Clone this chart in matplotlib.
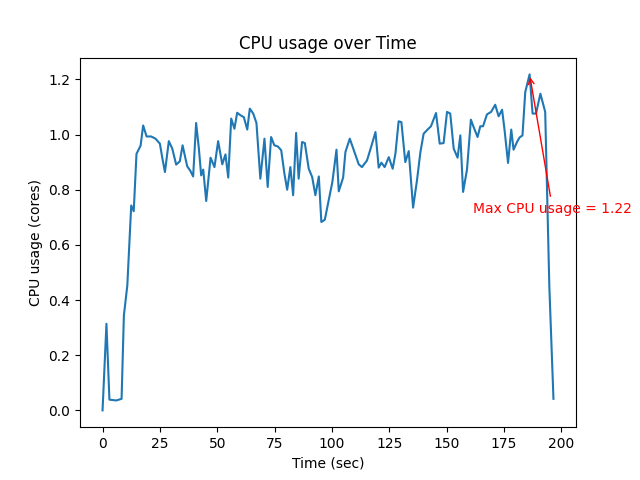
import matplotlib
matplotlib.use("Agg")
import matplotlib.pyplot as plt
import numpy as np

# sample times (sec) and cpu usage (cores)
time_sec = [0, 1.7, 3.0, 6.0, 8.3, 9.3, 10.8, 12.5, 13.6, 14.8, 16.6, 17.7, 19.2,
            21.2, 23.1, 25.0, 26.0, 27.2, 28.9, 30.4, 32.1, 33.7, 34.9, 36.9, 38.3,
            39.5, 40.8, 42.0, 43.0, 43.9, 45.2, 47.1, 48.8, 50.4, 52.2, 53.6, 54.8,
            56.1, 57.5, 58.7, 60.1, 61.6, 63.1, 64.2, 65.7, 67.1, 68.8, 70.6, 72.0,
            73.5, 74.9, 76.4, 77.9, 79.3, 80.5, 81.9, 83.1, 84.4, 85.5, 87.0, 88.2,
            89.9, 91.4, 92.8, 94.3, 95.4, 96.9, 98.6, 100.2, 102.0, 103.0, 104.9,
            105.9, 107.8, 109.8, 111.7, 113.1, 115.3, 117.1, 119.0, 120.4, 121.6,
            123.0, 124.8, 126.5, 127.7, 129.1, 130.3, 132.0, 133.5, 135.4, 137.1,
            138.6, 140.0, 141.7, 143.2, 145.4, 147.0, 148.7, 150.2, 151.6, 153.1,
            154.8, 156.0, 157.2, 158.9, 160.6, 161.8, 163.5, 164.7, 165.9, 167.6,
            169.4, 171.2, 172.7, 174.2, 175.3, 176.8, 178.2, 179.2, 180.7, 181.8,
            183.1, 184.3, 186.2, 187.5, 189.0, 190.9, 193.0, 194.8, 196.6]
cpu_usage = [0.0, 0.314, 0.039, 0.036, 0.042, 0.344, 0.453, 0.743, 0.722, 0.93,
             0.96, 1.033, 0.993, 0.993, 0.985, 0.967, 0.918, 0.864, 0.976, 0.949,
             0.891, 0.903, 0.961, 0.885, 0.868, 0.848, 1.042, 0.949, 0.852, 0.873,
             0.759, 0.916, 0.882, 0.976, 0.892, 0.928, 0.844, 1.058, 1.021, 1.079,
             1.07, 1.063, 1.018, 1.094, 1.076, 1.042, 0.84, 0.985, 0.81, 0.991,
             0.961, 0.957, 0.943, 0.858, 0.8, 0.882, 0.78, 1.006, 0.84, 0.973,
             0.969, 0.876, 0.846, 0.78, 0.848, 0.683, 0.691, 0.761, 0.828, 0.945,
             0.794, 0.844, 0.937, 0.985, 0.937, 0.892, 0.882, 0.906, 0.955, 1.009,
             0.88, 0.898, 0.882, 0.918, 0.876, 0.931, 1.048, 1.045, 0.9, 0.94,
             0.735, 0.834, 0.937, 1.003, 1.018, 1.03, 1.078, 0.967, 0.969, 1.082,
             1.076, 0.949, 0.916, 0.997, 0.792, 0.873, 1.054, 1.027, 0.991, 1.03,
             1.03, 1.073, 1.082, 1.108, 1.066, 1.09, 1.015, 0.897, 1.018, 0.945,
             0.973, 0.989, 0.997, 1.154, 1.218, 1.076, 1.076, 1.148, 1.082, 0.45,
             0.042]

t = np.array(time_sec)
cpu = np.array(cpu_usage)
imax = np.argmax(cpu)

fig, ax = plt.subplots(figsize=(6.4, 4.8), dpi=100)
ax.plot(t, cpu)
ax.set_title("CPU usage over Time")
ax.set_xlabel("Time (sec)")
ax.set_ylabel("CPU usage (cores)")

ax.annotate("Max CPU usage = %.2f" % cpu[imax],
            xy=(t[imax], cpu[imax]),
            xytext=(t[imax] + 10, cpu[imax] * 0.6),
            ha="center", va="center", color="red",
            arrowprops=dict(arrowstyle="->", color="red"))

plt.savefig("out.png")
